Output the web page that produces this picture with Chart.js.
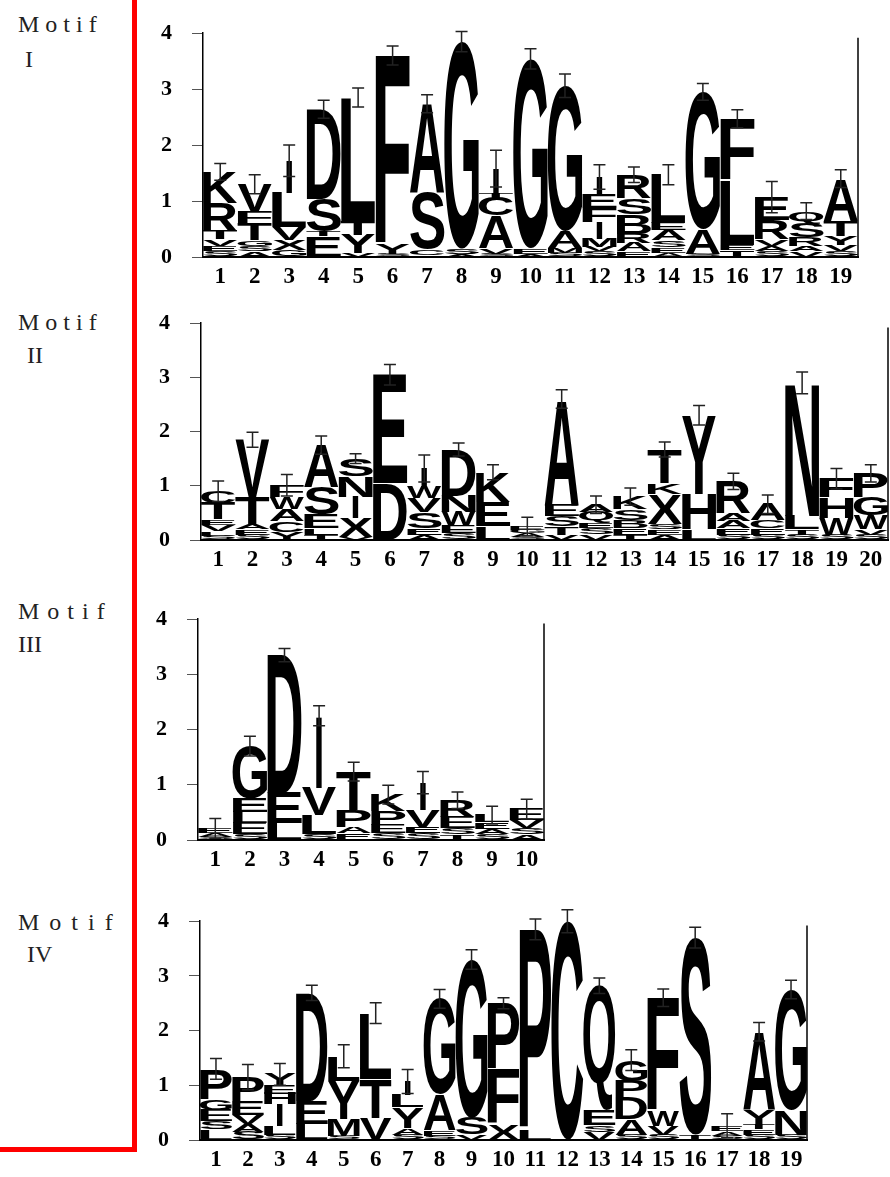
<!DOCTYPE html>
<html lang="en">
<head>
<meta charset="UTF-8" />
<title>motif logos</title>
<script src="https://cdn.jsdelivr.net/npm/chart.js"></script>
<style>
  body, html {
    margin: 0; padding: 0;
    background: #fff;
    width: 890px; height: 1177px;
    overflow: hidden;
    font-family: "Liberation Serif", "Times New Roman", serif;
  }
  .frame {
    position: absolute;
    left: 0; top: -5px;
    width: 132px; height: 1152px;
    border-right: 5px solid #ff0000;
    border-bottom: 5px solid #ff0000;
  }
  .lbl {
    position: absolute;
    font-size: 24px;
    line-height: 24px;
    color: #222;
    white-space: nowrap;
  }
  canvas { position: absolute; }
</style>
</head>
<body>
  <div class="frame"></div>

  <div class="lbl" style="left:18px; top:12px; letter-spacing:6px;">Motif</div>
  <div class="lbl" style="left:25px; top:47px;">I</div>
  <div class="lbl" style="left:18px; top:310px; letter-spacing:6px;">Motif</div>
  <div class="lbl" style="left:27px; top:343px;">II</div>
  <div class="lbl" style="left:18px; top:599px; letter-spacing:8px;">Motif</div>
  <div class="lbl" style="left:18px; top:632px;">III</div>
  <div class="lbl" style="left:18px; top:910px; letter-spacing:10px;">Motif</div>
  <div class="lbl" style="left:27px; top:942px;">IV</div>

  <canvas id="logo1"></canvas>
  <canvas id="logo2"></canvas>
  <canvas id="logo3"></canvas>
  <canvas id="logo4"></canvas>

<script>
  // letters of each column, bottom to top, with their heights in bits
  const motif1Positions = ['1','2','3','4','5','6','7','8','9','10','11','12','13','14','15','16','17','18','19'];
  const motif1Letters = ['SEVTRK','ASGTFV','GXVLI','ETSD','VYTL','SYF','VCSA','ASG','SVACTI','AEG',
                         'SMAG','SVMIFEI','EARBSR','AESAEL','SAG','TELF','SAVRE','VARSQ','SVYTA'];
  const motif1Heights = [
    [0.1,0.1,0.12,0.15,0.5,0.55], [0.1,0.1,0.1,0.3,0.2,0.5], [0.12,0.18,0.23,0.61,0.58],
    [0.38,0.08,0.58,1.6], [0.07,0.33,0.25,2.2], [0.05,0.17,3.38], [0.04,0.1,1.0,1.6],
    [0.05,0.1,3.7], [0.06,0.1,0.58,0.32,0.08,0.44], [0.06,0.1,3.38], [0.08,0.08,0.3,2.6],
    [0.1,0.08,0.15,0.3,0.25,0.25,0.3], [0.1,0.15,0.17,0.35,0.28,0.42], [0.08,0.1,0.12,0.18,0.13,0.86],
    [0.05,0.45,2.45], [0.12,0.1,1.15,1.1], [0.1,0.1,0.12,0.35,0.4], [0.1,0.1,0.15,0.25,0.22],
    [0.1,0.12,0.15,0.28,0.75]
  ];
  const motif1ErrTop = [1.67,1.47,2.0,2.8,3.02,3.77,2.9,4.03,1.91,3.72,3.27,1.65,1.61,1.65,3.1,2.63,1.35,0.97,1.56];

  const motif2Positions = ['1','2','3','4','5','6','7','8','9','10','11','12','13','14','15','16','17','18','19','20'];
  const motif2Letters = ['SLVETC','SEATV','YCAWF','TLESA','VXINS','DE','AESVWI','SEWND','LEK','SAGE',
                         'VTSEA','VSEQA','TEBSK','AESXKT','LHY','SEAAR','SECA','STLN','SWHF','SVWGP'];
  const motif2Heights = [
    [0.08,0.08,0.12,0.1,0.3,0.22], [0.1,0.1,0.1,0.5,1.05], [0.15,0.2,0.22,0.22,0.22],
    [0.1,0.12,0.25,0.5,0.78], [0.05,0.35,0.4,0.38,0.32], [1.05,2.0], [0.1,0.12,0.3,0.25,0.2,0.35],
    [0.12,0.15,0.25,0.3,0.85], [0.25,0.45,0.55], [0.06,0.07,0.06,0.06], [0.1,0.15,0.2,0.2,1.95],
    [0.1,0.12,0.1,0.2,0.13], [0.1,0.12,0.15,0.2,0.23], [0.1,0.1,0.1,0.55,0.2,0.62], [0.2,0.65,1.45],
    [0.1,0.12,0.13,0.15,0.58], [0.1,0.12,0.14,0.3], [0.1,0.1,0.25,2.45], [0.1,0.3,0.38,0.35],
    [0.1,0.1,0.25,0.33,0.45]
  ];
  const motif2ErrTop = [1.09,1.99,1.21,1.92,1.59,3.24,1.57,1.79,1.39,0.42,2.77,0.81,0.96,1.81,2.48,1.23,0.83,3.1,1.32,1.39];

  const motif3Positions = ['1','2','3','4','5','6','7','8','9','10'];
  const motif3Letters = ['SAE','SELEG','LED','SLVI','EAPT','SEPK','SEVI','TSER','SAEL','ASVE'];
  const motif3Heights = [
    [0.06,0.07,0.08], [0.1,0.2,0.2,0.25,0.95], [0.3,0.55,2.5], [0.1,0.35,0.5,1.3],
    [0.12,0.12,0.3,0.7], [0.12,0.15,0.25,0.3], [0.12,0.12,0.3,0.5], [0.1,0.12,0.2,0.3],
    [0.1,0.1,0.12,0.13], [0.1,0.12,0.14,0.2]
  ];
  const motif3ErrTop = [0.39,1.88,3.47,2.43,1.41,0.99,1.24,0.87,0.61,0.74];

  const motif4Positions = ['1','2','3','4','5','6','7','8','9','10','11','12','13','14','15','16','17','18','19'];
  const motif4Letters = ['LSEGP','SAVEP','SLIHEY','LED','SMYL','VTL','SAYLI','SEAG','VSG','XFP',
                         'LP','C','VSEQ','SADPG','SVWF','TS','SAE','SETYA','SNG'];
  const motif4Heights = [
    [0.2,0.15,0.2,0.2,0.55], [0.15,0.15,0.15,0.25,0.45], [0.1,0.15,0.4,0.2,0.15,0.2],
    [0.3,0.42,1.97], [0.08,0.3,0.7,0.45], [0.4,0.72,1.2], [0.1,0.12,0.38,0.22,0.25],
    [0.08,0.1,0.65,1.75], [0.1,0.3,2.9], [0.3,1.0,1.2], [0.2,3.65], [4.0],
    [0.15,0.12,0.27,2.28], [0.1,0.28,0.4,0.3,0.38], [0.1,0.15,0.29,2.06], [0.1,3.6],
    [0.08,0.08,0.1], [0.1,0.1,0.1,0.25,1.43], [0.1,0.45,2.2]
  ];
  const motif4ErrTop = [1.49,1.38,1.4,2.83,1.74,2.51,1.29,2.75,3.48,2.6,4.04,4.21,2.96,1.65,2.76,3.89,0.48,2.15,2.92];

  const yTicks = [0, 1, 2, 3, 4];

  // stretch one glyph to fill a box
  function drawLetter(ctx, ch, x, y, w, h) {
    if (h < 0.4) return;
    ctx.save();
    ctx.font = 'bold 100px "Liberation Sans", Arial, sans-serif';
    ctx.textAlign = 'left';
    ctx.textBaseline = 'alphabetic';
    const m = ctx.measureText(ch);
    const gw = m.actualBoundingBoxLeft + m.actualBoundingBoxRight;
    const gh = m.actualBoundingBoxAscent + m.actualBoundingBoxDescent;
    let dw = w;
    if (ch === 'I') dw = Math.min(w, 6);
    ctx.translate(x + (w - dw) / 2, y);
    ctx.scale(dw / gw, h / gh);
    ctx.fillStyle = '#000';
    ctx.fillText(ch, m.actualBoundingBoxLeft, m.actualBoundingBoxAscent);
    ctx.restore();
  }

  function logoPlugin(letters, heights, errTop) {
    return {
      id: 'logo',
      afterDatasetsDraw(chart) {
        const ctx = chart.ctx;
        const y = chart.scales.y;
        chart.data.datasets.forEach((ds, k) => {
          chart.getDatasetMeta(k).data.forEach((bar, i) => {
            const ch = letters[i][k];
            if (!ch || !ds.data[i]) return;
            const top = Math.min(bar.y, bar.base);
            const bot = Math.max(bar.y, bar.base);
            drawLetter(ctx, ch, bar.x - bar.width / 2, top, bar.width, bot - top);
          });
        });
        // error bars
        ctx.save();
        ctx.strokeStyle = '#222';
        ctx.lineWidth = 1.5;
        chart.getDatasetMeta(0).data.forEach((bar, i) => {
          const total = heights[i].reduce((a, b) => a + b, 0);
          const yt = y.getPixelForValue(errTop[i]);
          const yb = y.getPixelForValue(Math.max(0, 2 * total - errTop[i]));
          ctx.beginPath();
          ctx.moveTo(bar.x, yt); ctx.lineTo(bar.x, yb);
          ctx.moveTo(bar.x - 6, yt); ctx.lineTo(bar.x + 6, yt);
          ctx.moveTo(bar.x - 6, yb); ctx.lineTo(bar.x + 6, yb);
          ctx.stroke();
        });
        // right frame line
        const a = chart.chartArea;
        ctx.strokeStyle = '#000';
        ctx.lineWidth = 1.5;
        ctx.beginPath();
        ctx.moveTo(a.right, y.getPixelForValue(3.92));
        ctx.lineTo(a.right, a.bottom);
        ctx.stroke();
        ctx.restore();
      }
    };
  }

  const tickFont = { family: '"Liberation Serif", "Times New Roman", serif', weight: 'bold' };

  function makeLogo(id, area, positions, letters, heights, errTop) {
    const canvas = document.getElementById(id);
    const left = area.left - 65, top = area.top - 29;
    canvas.width = area.right - left + 20;
    canvas.height = area.bottom - top + 36;
    canvas.style.left = left + 'px';
    canvas.style.top = top + 'px';

    const layers = Math.max(...letters.map(s => s.length));
    const datasets = [];
    for (let k = 0; k < layers; k++) {
      datasets.push({
        data: heights.map(h => h[k] || 0),
        backgroundColor: 'rgba(0,0,0,0)',
        borderWidth: 0,
        barPercentage: 1,
        categoryPercentage: 1
      });
    }

    new Chart(canvas.getContext('2d'), {
      type: 'bar',
      data: { labels: positions, datasets: datasets },
      options: {
        responsive: false,
        animation: false,
        devicePixelRatio: 1,
        layout: { padding: { left: 2, top: 29, right: 20, bottom: 0 } },
        plugins: { legend: { display: false }, tooltip: { enabled: false } },
        scales: {
          x: {
            stacked: true,
            offset: true,
            grid: { display: false, drawTicks: false },
            border: { display: true, color: '#000', width: 2 },
            ticks: { color: '#000', font: { ...tickFont, size: 23 }, padding: 6, maxRotation: 0, autoSkip: false },
            afterFit(s) { s.height = 36; }
          },
          y: {
            stacked: true,
            min: 0, max: 4,
            afterBuildTicks(s) { s.ticks = yTicks.map(v => ({ value: v })); },
            grid: { drawOnChartArea: false, drawTicks: true, tickLength: 11, color: '#555', lineWidth: 1 },
            border: { display: true, color: '#000', width: 1.5 },
            ticks: { color: '#000', font: { ...tickFont, size: 22 }, padding: 20 },
            afterFit(s) { s.width = 63; }
          }
        }
      },
      plugins: [logoPlugin(letters, heights, errTop)]
    });
  }

  makeLogo('logo1', { left: 203, right: 858, top: 29, bottom: 257 },
           motif1Positions, motif1Letters, motif1Heights, motif1ErrTop);
  makeLogo('logo2', { left: 201, right: 888, top: 319, bottom: 540 },
           motif2Positions, motif2Letters, motif2Heights, motif2ErrTop);
  makeLogo('logo3', { left: 198, right: 544, top: 615, bottom: 840 },
           motif3Positions, motif3Letters, motif3Heights, motif3ErrTop);
  makeLogo('logo4', { left: 200, right: 807, top: 917, bottom: 1140 },
           motif4Positions, motif4Letters, motif4Heights, motif4ErrTop);
</script>
</body>
</html>
